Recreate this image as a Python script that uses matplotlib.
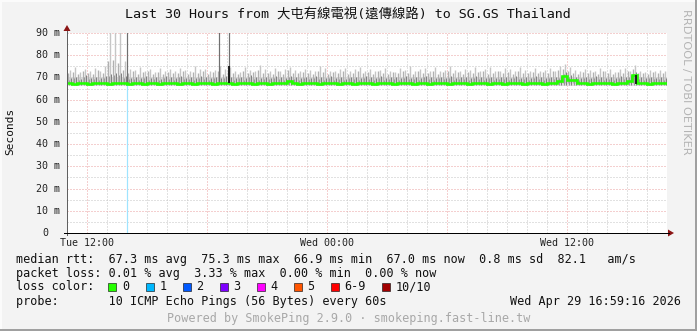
import matplotlib
matplotlib.use("Agg")
import matplotlib.pyplot as plt
from matplotlib.patches import Rectangle, Polygon

# ---------------- data (hours since Tue 00:00, 15-min steps from 11:00) ----------------
t_start = 11.0
step_h = 0.25

smoke_hi = [
    73.5, 74.8, 72.6, 73.9, 72.8, 74.2, 73.1, 75.0, 95.0, 95.0, 95.0, 77.5, 74.0, 73.2, 74.6, 72.9, 73.8, 72.5, 74.1, 73.0,
    73.7, 72.8, 74.4, 73.3, 72.7, 75.1, 73.6, 74.0, 72.9, 73.5, 75.2, 73.8, 74.5, 73.1, 72.6, 74.7, 73.4, 72.9, 75.4, 73.7,
    73.0, 74.2, 72.8, 73.9, 74.6, 73.2, 72.9, 74.0, 73.5, 72.7, 75.3, 74.1, 73.0, 72.8, 73.9, 74.3, 72.7, 73.6, 74.8, 73.1,
    74.0, 72.9, 73.5, 74.4, 73.0, 72.6, 74.1, 73.3, 75.0, 72.8, 73.7, 74.3, 73.1, 74.6, 72.9, 73.4, 75.1, 73.2, 72.8, 74.0,
    73.3, 74.5, 72.9, 73.8, 74.7, 73.0, 72.7, 74.2, 73.6, 72.9, 74.9, 73.4, 73.0, 74.1, 72.8, 73.5, 74.4, 73.1, 75.0, 76.2,
    74.5, 73.3, 72.9, 74.0, 73.4, 72.8, 74.2, 73.0, 73.7, 72.6, 73.9, 74.3, 72.8, 75.8, 73.1, 72.6, 73.4, 72.9, 73.2, 72.7,
]
smoke_mid = [
    71.9, 72.6, 71.4, 72.9, 72.1, 71.6, 73.2, 72.0, 77.2, 78.0, 76.5, 73.4, 71.8, 72.7, 71.5, 72.3, 73.0, 71.7, 72.4, 71.6,
    72.5, 71.8, 72.2, 73.1, 71.5, 72.6, 71.9, 72.8, 71.6, 72.3, 72.9, 71.7, 73.0, 72.2, 71.6, 72.7, 71.8, 72.4, 73.2, 71.9,
    72.2, 71.7, 72.8, 71.5, 73.3, 72.0, 71.8, 72.6, 72.1, 71.6, 72.9, 72.3, 71.7, 72.5, 71.9, 73.1, 71.6, 72.2, 72.8, 71.8,
    72.4, 71.6, 72.9, 72.0, 71.7, 72.6, 71.9, 73.0, 72.2, 71.5, 72.7, 72.1, 71.8, 72.8, 71.6, 72.3, 73.1, 71.9, 72.4, 71.7,
    72.6, 71.8, 72.3, 72.9, 71.6, 72.2, 72.7, 71.9, 72.5, 71.7, 73.0, 72.1, 71.8, 72.6, 71.9, 72.4, 72.0, 72.7, 73.4, 74.0,
    72.8, 72.1, 71.7, 72.5, 71.9, 72.3, 71.6, 72.8, 72.0, 71.7, 72.4, 71.9, 73.0, 73.9, 71.8, 72.2, 71.6, 72.3, 71.9, 72.1,
]
smoke_dark = [
    69.8, 70.4, 69.5, 70.9, 69.9, 70.2, 69.6, 70.7, 71.5, 72.0, 71.8, 70.6, 69.9, 70.3, 69.7, 70.5, 69.8, 70.1, 69.5, 70.6,
    70.0, 69.6, 70.8, 69.9, 70.3, 69.7, 70.5, 70.1, 69.6, 70.4, 69.9, 70.7, 70.2, 69.8, 70.4, 69.6, 70.9, 70.0, 69.7, 70.3,
    69.9, 70.6, 70.1, 69.7, 70.8, 70.2, 69.6, 70.4, 69.9, 70.5, 70.0, 69.7, 70.6, 69.8, 70.2, 69.5, 70.4, 70.0, 69.6, 70.7,
    70.1, 69.8, 70.5, 69.6, 70.3, 70.0, 69.7, 70.6, 69.9, 70.2, 69.6, 70.8, 70.1, 69.7, 70.4, 69.9, 70.5, 69.6, 70.2, 70.0,
    69.7, 70.6, 70.0, 69.8, 70.4, 69.6, 70.3, 70.1, 69.7, 70.5, 69.9, 70.2, 69.6, 70.7, 70.0, 69.8, 70.4, 70.1, 70.6, 72.3,
    71.0, 70.2, 69.8, 70.4, 69.9, 70.6, 70.0, 69.7, 70.3, 69.8, 70.5, 70.2, 70.9, 72.5, 70.1, 69.7, 70.4, 69.9, 70.2, 69.8,
]
median_rtt = [
    67.3, 67.2, 67.4, 67.3, 67.2, 67.3, 67.4, 67.3, 67.2, 67.3, 67.4, 67.3, 67.2, 67.3, 67.3, 67.2, 67.4, 67.3, 67.2, 67.3,
    67.3, 67.4, 67.2, 67.3, 67.3, 67.2, 67.4, 67.3, 67.3, 67.2, 67.3, 67.4, 67.3, 67.2, 67.3, 67.3, 67.4, 67.2, 67.3, 67.3,
    67.2, 67.3, 67.4, 67.3, 68.4, 67.3, 67.2, 67.3, 67.4, 67.3, 67.2, 67.3, 67.3, 67.4, 67.2, 67.3, 67.3, 67.2, 67.4, 67.3,
    67.3, 67.2, 67.3, 67.4, 67.3, 67.2, 67.3, 67.3, 67.4, 67.2, 67.3, 67.3, 67.2, 67.4, 67.3, 67.3, 67.2, 67.3, 67.4, 67.3,
    67.2, 67.3, 67.3, 67.4, 67.2, 67.3, 67.3, 67.2, 67.4, 67.3, 67.3, 67.2, 67.3, 67.4, 67.3, 67.2, 67.3, 67.3, 68.5, 70.6,
    69.0, 69.0, 67.4, 67.3, 67.2, 67.3, 67.4, 67.3, 67.3, 67.2, 67.3, 67.4, 68.6, 71.2, 67.3, 67.3, 67.2, 67.4, 67.3, 67.3,
]
smoke_floor = 66.2
haze_top = 70.0

tall_hours = [14.02, 18.62, 19.08]
tall_tops = [95.0, 95.0, 95.0]
dark_bar_hours = [19.08, 39.45]
dark_bar_lo = [67.3, 66.9]
dark_bar_hi = [75.3, 71.2]
loss_hours = [14.02]

y_ticks = [0, 10, 20, 30, 40, 50, 60, 70, 80, 90]
y_labels = ["0", "10 m", "20 m", "30 m", "40 m", "50 m", "60 m", "70 m", "80 m", "90 m"]
x_ticks = [12, 24, 36]
x_labels = ["Tue 12:00", "Wed 00:00", "Wed 12:00"]

loss_names = ["0", "1", "2", "3", "4", "5", "6-9", "10/10"]
loss_colors = ["#26ff00", "#00b8ff", "#0059ff", "#7e00ff", "#ff00ff", "#ff5500", "#ff0000", "#a10000"]

title = "Last 30 Hours from 大屯有線電視(遠傳線路) to SG.GS Thailand"
legend_lines = [
    "median rtt:  67.3 ms avg  75.3 ms max  66.9 ms min  67.0 ms now  0.8 ms sd  82.1   am/s",
    "packet loss: 0.01 % avg  3.33 % max  0.00 % min  0.00 % now",
    "loss color:",
    "probe:       10 ICMP Echo Pings (56 Bytes) every 60s",
]
stamp = "Wed Apr 29 16:59:16 2026"
footer = "Powered by SmokePing 2.9.0 · smokeping.fast-line.tw"

# ---------------- figure ----------------
W, H = 697, 331
fig = plt.figure(figsize=(W / 100, H / 100), dpi=100)
fig.patch.set_facecolor("#f3f3f3")

def fx(x):
    return x / W

def fy(y):
    return 1 - y / H

PX = 0.72  # points per pixel
MONO = ["DejaVu Sans Mono", "Noto Sans CJK TC"]

X0, X1, Y0, Y1 = 67, 667, 233, 33
ax = fig.add_axes([fx(X0), fy(Y0), (X1 - X0) / W, (Y0 - Y1) / H])
ax.set_xlim(11, 41)
ax.set_ylim(0, 90)
ax.set_facecolor("white")
for s in ax.spines.values():
    s.set_visible(False)
ax.set_xticks([])
ax.set_yticks([])

# grid
dots = (0, (1, 2))
for h in range(12, 41):
    major = (h % 6 == 0)
    ax.axvline(h, color="#eba0a0" if major else "#c4c4c4", lw=PX, ls=dots, zorder=0)
for v in range(5, 95, 5):
    major = (v % 10 == 0)
    ax.axhline(v, color="#eba0a0" if major else "#c4c4c4", lw=PX, ls=dots, zorder=0)

n = len(median_rtt)
edges = [t_start + step_h * i for i in range(n + 1)]
centers = [t_start + step_h * (i + 0.5) for i in range(n)]

# smoke
ax.fill_between([edges[0], edges[-1]], smoke_floor, haze_top, color="#dddddd", lw=0, zorder=1)
ax.vlines(centers, 67.5, smoke_hi, color="#c6c6c6", lw=1.4 * PX, zorder=2)
ax.vlines([e + 0.03 for e in edges[:-1]], 67.5, smoke_mid, color="#b0b0b0", lw=1.4 * PX, zorder=2)
ax.vlines([c + 0.07 for c in centers], 66.8, smoke_dark, color="#808080", lw=1.0 * PX, zorder=3)
ax.vlines([e + 0.08 for e in edges[:-1]], 66.8, [d - 0.8 for d in smoke_dark], color="#9a9a9a",
          lw=1.0 * PX, zorder=3)
ax.vlines(tall_hours, 67.3, tall_tops, color="#707070", lw=1.2 * PX, zorder=3)
ax.vlines(loss_hours, 0, 67.0, color="#9fe4ff", lw=1.2 * PX, zorder=3)

# median
ax.stairs(median_rtt, edges, color="#22ff00", lw=2.6 * PX, zorder=4, baseline=None)
ax.vlines(dark_bar_hours, dark_bar_lo, dark_bar_hi, color="#111111", lw=1.8 * PX, zorder=5)

# axis lines and arrows (in pixels)
fig.add_artist(plt.Line2D([fx(67), fx(67)], [fy(235), fy(31)], color="#606060", lw=1.0 * PX))
fig.add_artist(plt.Line2D([fx(64), fx(669)], [fy(233), fy(233)], color="#000000", lw=1.0 * PX))
fig.add_artist(Polygon([(fx(63.5), fy(31)), (fx(70.5), fy(31)), (fx(67), fy(25))], closed=True,
                       color="#8b1414", lw=0))
fig.add_artist(Polygon([(fx(668), fy(229.5)), (fx(668), fy(236.5)), (fx(674), fy(233))], closed=True,
                       color="#8b1414", lw=0))

# tick labels
for v, lab in zip(y_ticks, y_labels):
    ypx = Y0 - v * (Y0 - Y1) / 90
    xr = 60 if lab != "0" else 48
    fig.text(fx(xr), fy(ypx), lab, ha="right", va="center", family=MONO, fontsize=7.2, color="#222222")
for h, lab in zip(x_ticks, x_labels):
    xpx = X0 + (h - 11) * 20
    fig.text(fx(xpx), fy(243), lab, ha="center", va="center", family=MONO, fontsize=7.2, color="#222222")

# titles
fig.text(fx(348), fy(15), title, ha="center", va="center", family=MONO, fontsize=9.6, color="#111111")
fig.text(fx(10.5), fy(131), "Seconds", ha="center", va="center", rotation=90, family=MONO,
         fontsize=8.0, color="#111111")
fig.text(fx(686), fy(82), "RRDTOOL / TOBI OETIKER", ha="center", va="center", rotation=270,
         family="DejaVu Sans", fontsize=8.2, color="#b4b4b4")

# legend
ys = [260, 273.5, 287, 301]
for yy, line in zip(ys, legend_lines):
    fig.text(fx(16), fy(yy), line, ha="left", va="center", family=MONO, fontsize=8.5, color="#111111")
box_x = [108, 145.5, 182.5, 219.5, 256.5, 293.5, 330.5, 382]
for bx, name, col in zip(box_x, loss_names, loss_colors):
    fig.add_artist(Rectangle((fx(bx), fy(291)), 8 / W, 8 / H, facecolor=col, edgecolor="#111111",
                             lw=0.6 * PX))
    fig.text(fx(bx + 14), fy(287), name, ha="left", va="center", family=MONO, fontsize=8.5, color="#111111")
fig.text(fx(681), fy(301), stamp, ha="right", va="center", family=MONO, fontsize=8.5, color="#111111")
fig.text(fx(349), fy(318.5), footer, ha="center", va="center", family=MONO, fontsize=8.5, color="#a8a8a8")

# frame shading
fig.add_artist(Rectangle((0, 0), 1, 2 / H, facecolor="#a0a0a0", lw=0))
fig.add_artist(Rectangle((1 - 2 / W, 0), 2 / W, 1, facecolor="#a0a0a0", lw=0))
fig.add_artist(Rectangle((0, 1 - 2 / H), 1 - 2 / W, 2 / H, facecolor="#fbfbfb", lw=0))
fig.add_artist(Rectangle((0, 2 / H), 2 / W, 1, facecolor="#fbfbfb", lw=0))

fig.savefig("out.png", dpi=100, facecolor=fig.get_facecolor())
